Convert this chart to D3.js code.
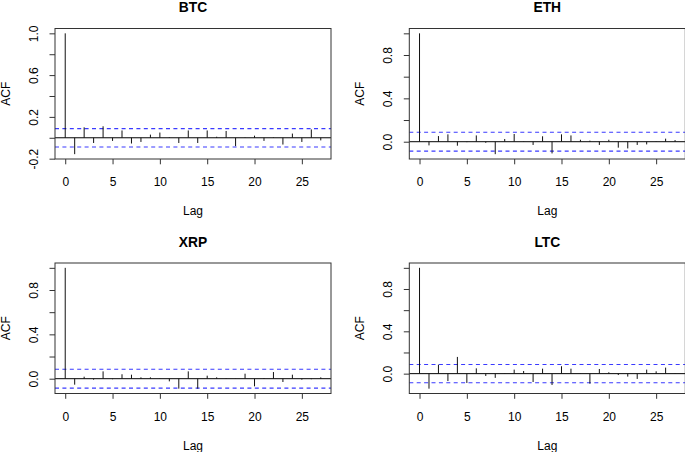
<!DOCTYPE html>
<html><head><meta charset="utf-8">
<script src="https://cdn.jsdelivr.net/npm/d3@7"></script>
<style>body{margin:0;background:#fff} svg{display:block}</style>
</head><body><svg id="chart" width="685" height="452"></svg>
<script>
const lags = [0,1,2,3,4,5,6,7,8,9,10,11,12,13,14,15,16,17,18,19,20,21,22,23,24,25,26,27];
const btcAcf = [1.0,-0.157,0.10,-0.05,0.11,-0.03,0.07,-0.055,-0.04,0.03,0.05,0.005,-0.05,0.07,-0.05,0.07,0.01,0.065,-0.08,0.003,0.02,-0.03,0.004,-0.065,0.04,-0.04,0.08,-0.025];
const ethAcf = [1.0,-0.034,0.052,0.068,-0.037,-0.004,0.058,-0.01,-0.115,0.025,0.071,0.003,-0.03,0.05,-0.108,0.068,0.058,0.018,0.01,-0.03,0.018,-0.055,-0.062,-0.03,-0.025,0.003,0.028,0.015];
const xrpAcf = [1.0,-0.054,0.018,-0.009,0.066,-0.005,0.04,0.036,0.012,0.012,0.002,-0.024,-0.09,0.066,-0.09,0.027,0.012,0.004,0.002,0.045,-0.069,0.006,0.06,-0.03,0.036,-0.009,-0.005,0.012];
const ltcAcf = [1.0,-0.142,0.085,-0.07,0.158,-0.088,0.05,-0.022,-0.04,0.003,0.038,0.025,-0.079,0.047,-0.107,0.07,0.047,0.003,-0.095,0.044,0.013,-0.013,-0.028,-0.05,0.038,0.022,0.057,0.003];
const panelNames = ["BTC","ETH","XRP","LTC"];
const ciBounds = [0.088,0.087,0.085,0.086];
const xTicks = [0,5,10,15,20,25];
const yTicksBtc = [-0.2,0,0.2,0.4,0.6,0.8,1.0];
const yLabelsBtc = [-0.2,0.2,0.6,1.0];
const yTicksOther = [0,0.2,0.4,0.6,0.8,1.0];
const yLabelsOther = [0,0.4,0.8];

const series = [btcAcf, ethAcf, xrpAcf, ltcAcf];
const svg = d3.select("#chart");
const font = "'Liberation Sans', Arial, Helvetica, sans-serif";
const colW = 354.3, rowH = 234.5;
const L = 55, R = 331, T = 28.5, B = 159;

series.forEach((vals, i) => {
  const col = i % 2, row = Math.floor(i / 2);
  const g = svg.append("g").attr("transform", `translate(${col*colW},${row*rowH})`);
  const ci = ciBounds[i];
  const xlo = d3.min(lags), xhi = d3.max(lags), xp = 0.04*(xhi-xlo);
  const x = d3.scaleLinear().domain([xlo-xp, xhi+xp]).range([L, R]);
  const ylo = Math.min(d3.min(vals), -ci), yhi = Math.max(d3.max(vals), ci), yp = 0.04*(yhi-ylo);
  const y = d3.scaleLinear().domain([ylo-yp, yhi+yp]).range([B, T]);
  const yTicks = i === 0 ? yTicksBtc : yTicksOther;
  const yLabels = i === 0 ? yLabelsBtc : yLabelsOther;

  g.append("line").attr("x1", L).attr("x2", R).attr("y1", y(0)).attr("y2", y(0))
    .attr("stroke", "#000").attr("stroke-width", 1);
  [ci, -ci].forEach(c => {
    g.append("line").attr("x1", L).attr("x2", R).attr("y1", y(c)).attr("y2", y(c))
      .attr("stroke", "#3a3aff").attr("stroke-width", 1.1).attr("stroke-dasharray", "4,3.4");
  });
  g.selectAll("line.bar").data(lags).enter().append("line").attr("class", "bar")
    .attr("x1", d => x(d)).attr("x2", d => x(d))
    .attr("y1", y(0)).attr("y2", (d, k) => y(vals[k]))
    .attr("stroke", "#111").attr("stroke-width", 1);
  g.append("rect").attr("x", L).attr("y", T).attr("width", R-L).attr("height", B-T)
    .attr("fill", "none").attr("stroke", "#333").attr("stroke-width", 1);

  const xa = g.append("g").attr("transform", `translate(0,${B})`)
    .call(d3.axisBottom(x).tickValues(xTicks).tickSize(5.3).tickFormat(d => String(d)));
  xa.select(".domain").remove();
  xa.selectAll("line").attr("stroke", "#333");
  xa.selectAll("text").attr("y", 27).attr("dy", 0)
    .attr("font-family", font).attr("font-size", 12).attr("fill", "#000");

  const ya = g.append("g").attr("transform", `translate(${L},0)`)
    .call(d3.axisLeft(y).tickValues(yTicks).tickSize(5.5)
      .tickFormat(d => yLabels.some(v => Math.abs(v-d) < 1e-9) ? d.toFixed(1) : ""));
  ya.select(".domain").remove();
  ya.selectAll("line").attr("stroke", "#333");
  ya.selectAll("text").attr("x", 0).attr("y", 0).attr("dy", 0)
    .attr("transform", `translate(${37.5-L},0) rotate(-90)`)
    .attr("text-anchor", "middle")
    .attr("font-family", font).attr("font-size", 12).attr("fill", "#000");

  g.append("text").attr("x", (L+R)/2).attr("y", 12).attr("text-anchor", "middle")
    .attr("font-family", font).attr("font-weight", "bold").attr("font-size", 13.8)
    .text(panelNames[i]);
  g.append("text").attr("x", (L+R)/2).attr("y", 215).attr("text-anchor", "middle")
    .attr("font-family", font).attr("font-size", 12).text("Lag");
  g.append("text").attr("transform", `translate(10,${(T+B)/2}) rotate(-90)`)
    .attr("text-anchor", "middle")
    .attr("font-family", font).attr("font-size", 12).text("ACF");
});
</script></body></html>
